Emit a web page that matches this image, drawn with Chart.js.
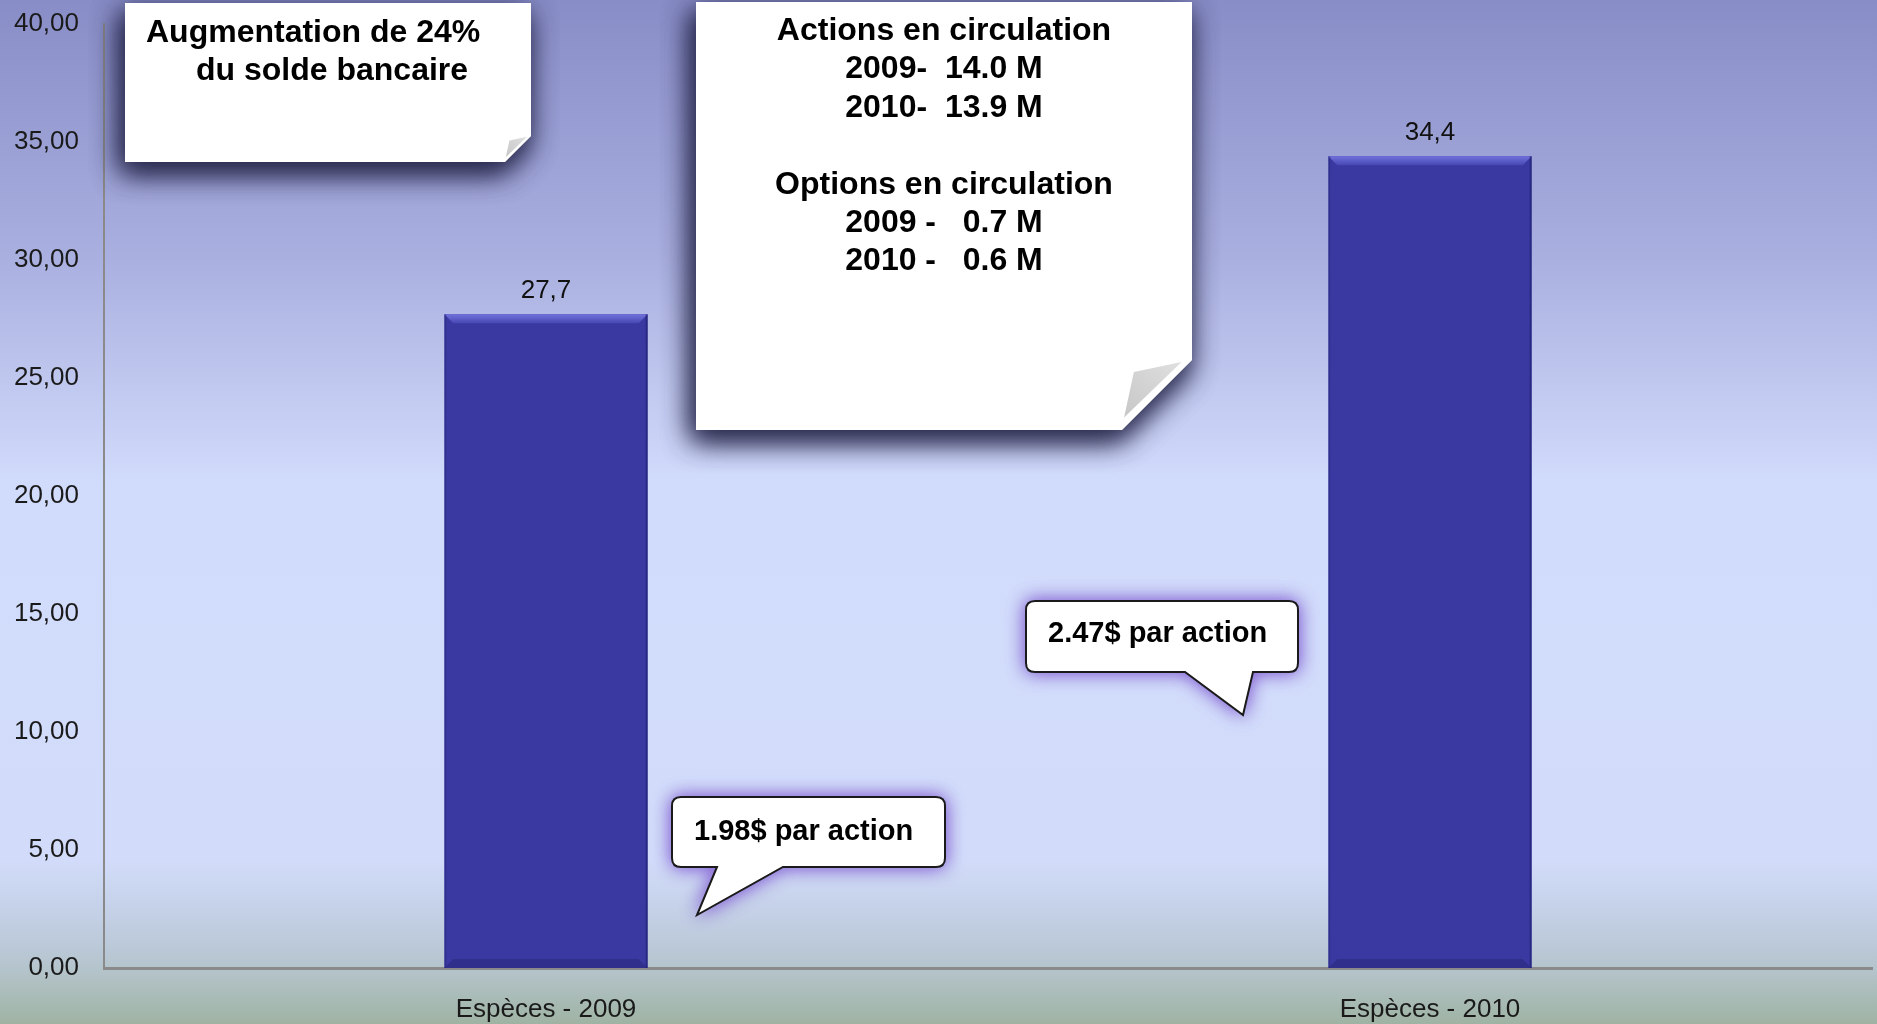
<!DOCTYPE html>
<html>
<head>
<meta charset="utf-8">
<script src="https://cdn.jsdelivr.net/npm/chart.js@4.4.0/dist/chart.umd.min.js"></script>
<style>
  html, body { margin: 0; padding: 0; background: #c8d2f0; }
  #wrap { width: 1877px; height: 1024px; position: relative; }
</style>
</head>
<body>
<div id="wrap"><canvas id="cashChart" width="1877" height="1024"></canvas></div>
<script>
// Données du graphique
const categories = ['Espèces - 2009', 'Espèces - 2010'];
const cashValues = [27.7, 34.4];
const yMax = 40;
const yStep = 5;

// Textes des encadrés
const noteLeft = ['Augmentation de 24%', '   du solde bancaire'];
const noteCenter = ['Actions en circulation', '2009-  14.0 M', '2010-  13.9 M', '',
    'Options en circulation', '2009 -   0.7 M', '2010 -   0.6 M'];
const bubbleTexts = ['1.98$ par action', '2.47$ par action'];

const fmt = (v, d) => v.toFixed(d).replace('.', ',');

// Fond dégradé de la diapositive
const bgPlugin = {
    id: 'bg',
    beforeDraw(chart) {
        const ctx = chart.ctx;
        const g = ctx.createLinearGradient(0, 0, 0, chart.height);
        g.addColorStop(0, '#888dc7');
        g.addColorStop(0.25, '#a9afdf');
        g.addColorStop(0.47, '#d1dbfb');
        g.addColorStop(0.84, '#d2dcfa');
        g.addColorStop(0.92, '#bccadb');
        g.addColorStop(0.95, '#b3c3c9');
        g.addColorStop(1, '#9fb3a3');
        ctx.save();
        ctx.fillStyle = g;
        ctx.fillRect(0, 0, chart.width, chart.height);
        ctx.restore();
    }
};

// Effet biseauté des barres + étiquettes de valeur
const barDeco = {
    id: 'barDeco',
    afterDatasetsDraw(chart) {
        const ctx = chart.ctx;
        const meta = chart.getDatasetMeta(0);
        meta.data.forEach((bar, i) => {
            const l = bar.x - bar.width / 2, r = bar.x + bar.width / 2;
            const t = bar.y, b = bar.base;
            const bv = 9;
            ctx.save();
            // bord supérieur clair
            let g = ctx.createLinearGradient(0, t, 0, t + bv);
            g.addColorStop(0, '#7272dc');
            g.addColorStop(1, '#4848b4');
            ctx.fillStyle = g;
            ctx.beginPath();
            ctx.moveTo(l, t); ctx.lineTo(r, t); ctx.lineTo(r - bv, t + bv); ctx.lineTo(l + bv, t + bv);
            ctx.closePath(); ctx.fill();
            // bord inférieur sombre
            ctx.fillStyle = '#30308c';
            ctx.beginPath();
            ctx.moveTo(l, b); ctx.lineTo(r, b); ctx.lineTo(r - bv, b - bv); ctx.lineTo(l + bv, b - bv);
            ctx.closePath(); ctx.fill();
            // côtés
            ctx.fillStyle = 'rgba(30,30,110,0.55)';
            ctx.fillRect(r - 2, t, 2, b - t);
            ctx.fillStyle = 'rgba(30,30,110,0.3)';
            ctx.fillRect(l, t, 2, b - t);
            // valeur
            ctx.fillStyle = '#111';
            ctx.font = '26px "Liberation Sans", Arial, sans-serif';
            ctx.textAlign = 'center';
            ctx.textBaseline = 'alphabetic';
            ctx.fillText(fmt(cashValues[i], 1), bar.x, t - 16);
            ctx.restore();
        });
    }
};

// Encadrés et bulles
function noteBox(ctx, x0, y0, x1, y1, cut) {
    ctx.save();
    ctx.shadowColor = 'rgba(35,35,70,0.85)';
    ctx.shadowBlur = 28;
    ctx.shadowOffsetX = -4;
    ctx.shadowOffsetY = 10;
    ctx.fillStyle = '#ffffff';
    ctx.beginPath();
    ctx.moveTo(x0, y0); ctx.lineTo(x1, y0); ctx.lineTo(x1, y1 - cut);
    ctx.lineTo(x1 - cut, y1); ctx.lineTo(x0, y1); ctx.closePath();
    ctx.fill();
    ctx.fill();
    ctx.restore();
    // coin replié
    ctx.save();
    const g = ctx.createLinearGradient(x1 - cut, y1, x1, y1 - cut);
    g.addColorStop(0, '#c4c4c4');
    g.addColorStop(1, '#e2e2e2');
    ctx.fillStyle = g;
    ctx.beginPath();
    ctx.moveTo(x1 - cut * 0.97, y1 - cut * 0.18);
    ctx.lineTo(x1 - cut * 0.83, y1 - cut * 0.83);
    ctx.lineTo(x1 - cut * 0.15, y1 - cut * 0.97);
    ctx.closePath();
    ctx.fill();
    ctx.restore();
}

function bubble(ctx, x0, y0, x1, y1, tailA, tailB, tip, text, tx, ty) {
    const r = 9;
    ctx.save();
    ctx.beginPath();
    ctx.moveTo(x0 + r, y0);
    ctx.lineTo(x1 - r, y0); ctx.quadraticCurveTo(x1, y0, x1, y0 + r);
    ctx.lineTo(x1, y1 - r); ctx.quadraticCurveTo(x1, y1, x1 - r, y1);
    ctx.lineTo(tailB, y1); ctx.lineTo(tip[0], tip[1]); ctx.lineTo(tailA, y1);
    ctx.lineTo(x0 + r, y1); ctx.quadraticCurveTo(x0, y1, x0, y1 - r);
    ctx.lineTo(x0, y0 + r); ctx.quadraticCurveTo(x0, y0, x0 + r, y0);
    ctx.closePath();
    ctx.shadowColor = 'rgba(140,110,215,0.95)';
    ctx.shadowBlur = 18;
    ctx.fillStyle = '#ffffff';
    ctx.fill();
    ctx.fill();
    ctx.shadowColor = 'transparent';
    ctx.lineWidth = 2;
    ctx.strokeStyle = '#1a1a1a';
    ctx.stroke();
    ctx.fillStyle = '#000';
    ctx.font = 'bold 29px "Liberation Sans", Arial, sans-serif';
    ctx.textAlign = 'left';
    ctx.fillText(text, tx, ty);
    ctx.restore();
}

const notesPlugin = {
    id: 'notes',
    afterDraw(chart) {
        const ctx = chart.ctx;
        // encadré gauche
        noteBox(ctx, 125, 3, 531, 162, 26);
        ctx.save();
        ctx.fillStyle = '#000';
        ctx.font = 'bold 32px "Liberation Sans", Arial, sans-serif';
        ctx.textAlign = 'left';
        ctx.fillText(noteLeft[0], 146, 42);
        ctx.fillText(noteLeft[1].trim(), 196, 80);
        ctx.restore();
        // encadré central
        noteBox(ctx, 696, 2, 1192, 430, 70);
        ctx.save();
        ctx.fillStyle = '#000';
        ctx.font = 'bold 32px "Liberation Sans", Arial, sans-serif';
        ctx.textAlign = 'center';
        noteCenter.forEach((line, i) => ctx.fillText(line, 944, 40 + i * 38.4));
        ctx.restore();
        // bulles
        bubble(ctx, 672, 797, 945, 867, 717, 783, [697, 915], bubbleTexts[0], 694, 840);
        bubble(ctx, 1026, 601, 1298, 672, 1185, 1253, [1243, 715], bubbleTexts[1], 1048, 642);
    }
};

const ctx = document.getElementById('cashChart').getContext('2d');
new Chart(ctx, {
    type: 'bar',
    data: {
        labels: categories,
        datasets: [{
            label: 'Espèces',
            data: cashValues,
            backgroundColor: '#3939a1',
            borderWidth: 0,
            barPercentage: 0.23,
            categoryPercentage: 1.0,
        }]
    },
    options: {
        responsive: false,
        animation: false,
        events: [],
        layout: { padding: { top: 24, right: 5, left: 0, bottom: 0 } },
        plugins: { legend: { display: false }, tooltip: { enabled: false } },
        scales: {
            y: {
                min: 0,
                max: yMax,
                afterFit: (s) => { s.width = 104; s.paddingTop = 0; s.paddingBottom = 0; },
                ticks: {
                    stepSize: yStep,
                    padding: 25,
                    color: '#1a1a1a',
                    font: { family: '"Liberation Sans", Arial, sans-serif', size: 26 },
                    callback: (v) => fmt(v, 2)
                },
                grid: { display: false, drawTicks: false },
                border: { color: '#8a8a8a', width: 2 }
            },
            x: {
                afterFit: (s) => { s.height = 56; s.paddingLeft = 0; s.paddingRight = 0; },
                ticks: {
                    padding: 26,
                    color: '#1a1a1a',
                    font: { family: '"Liberation Sans", Arial, sans-serif', size: 26 }
                },
                grid: { display: false, drawTicks: false },
                border: { color: '#8a8a8a', width: 3 }
            }
        }
    },
    plugins: [bgPlugin, barDeco, notesPlugin]
});
</script>
</body>
</html>
